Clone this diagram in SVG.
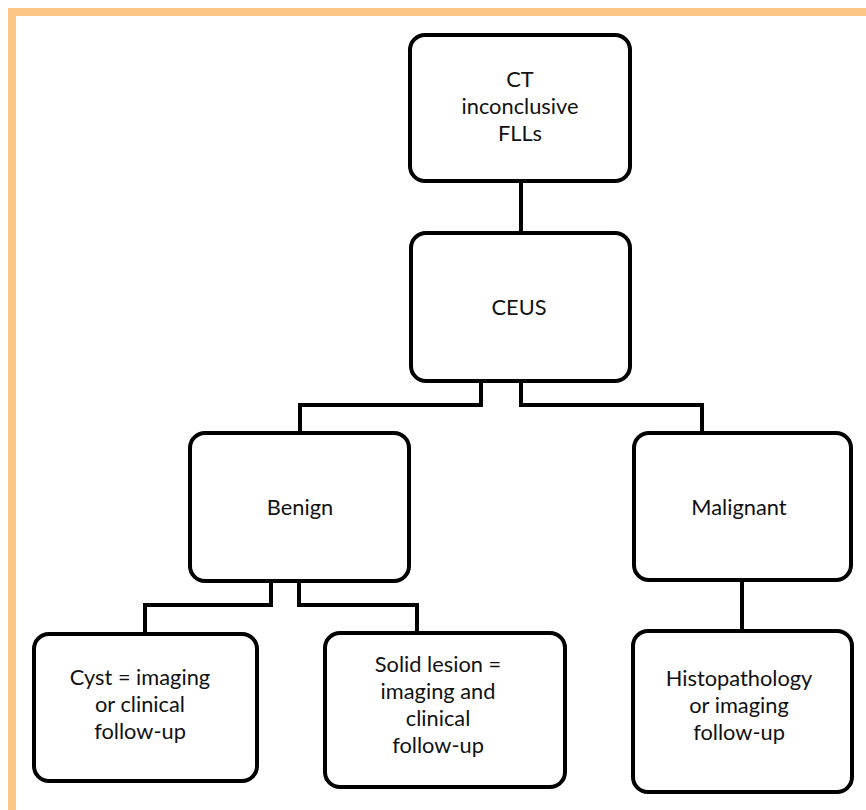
<svg xmlns="http://www.w3.org/2000/svg" width="866" height="810" viewBox="0 0 866 810">
<style>
.box{fill:#fff;stroke:#000;stroke-width:4}
.con{fill:none;stroke:#000;stroke-width:4;stroke-linejoin:miter}
.t{font-family:Lato,"Open Sans","Liberation Sans",sans-serif;font-size:21.8px;fill:#111;text-anchor:middle}
</style>
<rect width="866" height="810" fill="#fff"/>
<g id="frame">
<rect x="8" y="8" width="858" height="8" fill="#FCC687"/>
<rect x="8" y="8" width="8" height="802" fill="#FCC687"/>
</g>
<g id="connectors">
<path class="con" d="M521 181V233"/>
<path class="con" d="M481 381V405H300V433"/>
<path class="con" d="M521 381V405H702V433"/>
<path class="con" d="M271 581V605H145V634"/>
<path class="con" d="M299 581V605H417V633"/>
<path class="con" d="M742 580V631"/>
</g>
<g id="ct">
<rect class="box" x="410" y="35" width="220" height="146" rx="15"/>
<text class="t" x="520" y="87">CT</text>
<text class="t" x="520" y="114">inconclusive</text>
<text class="t" x="520" y="141">FLLs</text>
</g>
<g id="ceus">
<rect class="box" x="411" y="233" width="219" height="148" rx="15"/>
<text class="t" x="519" y="315">CEUS</text>
</g>
<g id="benign">
<rect class="box" x="190" y="433" width="219" height="148" rx="15"/>
<text class="t" x="300" y="515">Benign</text>
</g>
<g id="malignant">
<rect class="box" x="634" y="433" width="217" height="147" rx="15"/>
<text class="t" x="739" y="515">Malignant</text>
</g>
<g id="cyst">
<rect class="box" x="34" y="634" width="223" height="147" rx="15"/>
<text class="t" x="140" y="685">Cyst = imaging</text>
<text class="t" x="140" y="712">or clinical</text>
<text class="t" x="140" y="739">follow-up</text>
</g>
<g id="solid">
<rect class="box" x="325" y="633" width="240" height="154" rx="15"/>
<text class="t" x="438" y="672">Solid lesion =</text>
<text class="t" x="438" y="699">imaging and</text>
<text class="t" x="438" y="726">clinical</text>
<text class="t" x="438" y="753">follow-up</text>
</g>
<g id="histo">
<rect class="box" x="633" y="631" width="219" height="161" rx="15"/>
<text class="t" x="739" y="686">Histopathology</text>
<text class="t" x="739" y="713">or imaging</text>
<text class="t" x="739" y="740">follow-up</text>
</g>
</svg>
